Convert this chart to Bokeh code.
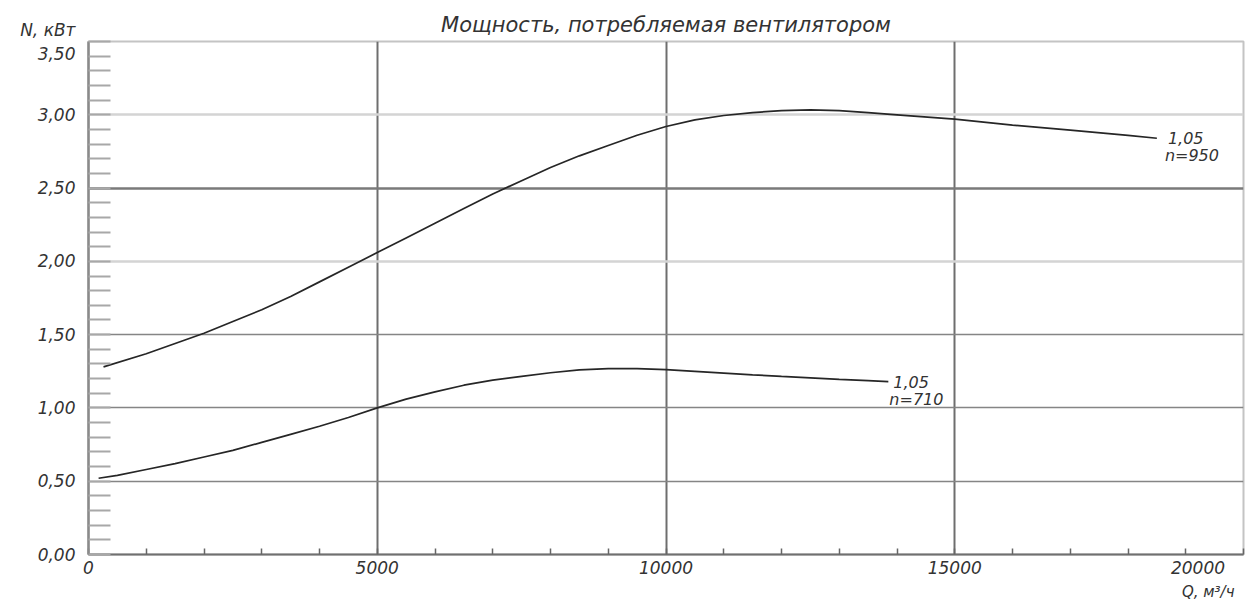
from bokeh.plotting import figure
from bokeh.models import FixedTicker, Grid, Label, Range1d, Title
from bokeh.embed import file_html
from bokeh.resources import INLINE

# ---- texts ----
title_text = "Мощность, потребляемая вентилятором"
y_label_text = "N, кВт"
x_label_text = "Q, м³/ч"

# ---- ticks ----
x_ticks = [0, 5000, 10000, 15000, 20000]
x_minor = [0, 1000, 2000, 3000, 4000, 5000, 6000, 7000, 8000, 9000, 10000,
           11000, 12000, 13000, 14000, 15000, 16000, 17000, 18000, 19000, 20000]
x_grid = [5000, 10000, 15000, 20000]
y_ticks = [0.0, 0.5, 1.0, 1.5, 2.0, 2.5, 3.0, 3.5]
y_minor = [0.0, 0.1, 0.2, 0.3, 0.4, 0.5, 0.6, 0.7, 0.8, 0.9, 1.0, 1.1, 1.2, 1.3,
           1.4, 1.5, 1.6, 1.7, 1.8, 1.9, 2.0, 2.1, 2.2, 2.3, 2.4, 2.5, 2.6, 2.7,
           2.8, 2.9, 3.0, 3.1, 3.2, 3.3, 3.4, 3.5]
y_grid_mid = [0.5, 1.0, 1.5]
y_grid_dark = [2.5]
y_grid_light = [2.0, 3.0, 3.5]

# ---- data: n = 950 ----
q950 = [260, 1000, 1500, 2000, 2500, 3000, 3500, 4000, 4500, 5000, 5500,
        6000, 6500, 7000, 7500, 8000, 8500, 9000, 9500, 10000, 10500, 11000,
        11500, 12000, 12500, 13000, 13500, 14000, 15000, 16000, 17000, 18000,
        18500]
n950 = [1.28, 1.37, 1.44, 1.51, 1.59, 1.67, 1.76, 1.86, 1.96, 2.06, 2.16,
        2.26, 2.36, 2.46, 2.55, 2.64, 2.72, 2.79, 2.86, 2.92, 2.965, 2.995,
        3.015, 3.028, 3.034, 3.028, 3.015, 3.0, 2.97, 2.93, 2.895, 2.86,
        2.84]
lab950 = ["1,05", "n=950"]

# ---- data: n = 710 ----
q710 = [175, 500, 1000, 1500, 2000, 2500, 3000, 3500, 4000, 4500, 5000,
        5500, 6000, 6500, 7000, 7500, 8000, 8500, 9000, 9500, 10000, 10500,
        11000, 11500, 12000, 12500, 13000, 13500, 13850]
n710 = [0.52, 0.54, 0.58, 0.62, 0.665, 0.71, 0.765, 0.82, 0.875, 0.935, 1.00,
        1.06, 1.11, 1.155, 1.19, 1.215, 1.24, 1.26, 1.268, 1.268, 1.262, 1.25,
        1.238, 1.226, 1.215, 1.205, 1.195, 1.186, 1.18]
lab710 = ["1,05", "n=710"]

FONT = "DejaVu Sans"
TXT = "#333333"

p = figure(width=1257, height=600,
           x_range=Range1d(0, 20000), y_range=Range1d(0, 3.5),
           output_backend="svg", toolbar_location=None,
           min_border_left=88, min_border_right=14,
           min_border_top=41, min_border_bottom=46,
           title=None)
p.background_fill_color = "white"
p.border_fill_color = "white"
p.outline_line_color = "#c4c4c4"
p.outline_line_width = 2

p.add_layout(Title(text=title_text, align="center", offset=-12, standoff=9,
                   text_font=FONT, text_font_style="italic",
                   text_font_size="21px", text_color=TXT), "above")

# x axis
xa = p.xaxis[0]
xa.ticker = FixedTicker(ticks=x_ticks, minor_ticks=x_minor)
xa.major_label_overrides = {20000: "20000\u2007\u2007\u2007"}
xa.major_tick_in = 0
xa.major_tick_out = 0
xa.minor_tick_in = 6
xa.minor_tick_out = 0
xa.minor_tick_line_color = "#666666"
xa.minor_tick_line_width = 1.5
xa.axis_line_color = "#707070"
xa.axis_line_width = 2
xa.major_label_standoff = 3
xa.major_label_text_font = FONT
xa.major_label_text_font_style = "italic"
xa.major_label_text_font_size = "17px"
xa.major_label_text_color = TXT

# x axis name below the tick labels, right aligned
p.add_layout(Title(text=x_label_text, align="right", offset=9, standoff=0,
                   text_font=FONT, text_font_style="italic",
                   text_font_size="15px", text_color=TXT), "below")

# y axis (axis name sits on top of the highest tick label)
ya = p.yaxis[0]
ya.ticker = FixedTicker(ticks=y_ticks, minor_ticks=y_minor)
y_tick_text = {t: f"{t:.2f}".replace(".", ",") for t in y_ticks}
y_tick_text[y_ticks[-1]] = y_label_text + "\n" + y_tick_text[y_ticks[-1]]
ya.major_label_overrides = y_tick_text
ya.major_tick_in = 0
ya.major_tick_out = 0
ya.minor_tick_in = 22
ya.minor_tick_out = 0
ya.minor_tick_line_color = "#a8a8a8"
ya.minor_tick_line_width = 2
ya.axis_line_color = "#8a8a8a"
ya.axis_line_width = 2.5
ya.major_label_standoff = 13
ya.major_label_text_font = FONT
ya.major_label_text_font_style = "italic"
ya.major_label_text_font_size = "17px"
ya.major_label_text_color = TXT

# grids
p.xgrid.ticker = FixedTicker(ticks=x_grid)
p.xgrid.grid_line_color = "#6e6e6e"
p.xgrid.grid_line_width = 2
p.ygrid.ticker = FixedTicker(ticks=y_grid_mid)
p.ygrid.grid_line_color = "#858585"
p.ygrid.grid_line_width = 1.3
p.add_layout(Grid(dimension=1, ticker=FixedTicker(ticks=y_grid_dark),
                  grid_line_color="#7a7a7a", grid_line_width=2.5))
p.add_layout(Grid(dimension=1, ticker=FixedTicker(ticks=y_grid_light),
                  grid_line_color="#d4d4d4", grid_line_width=2.5))

# curves
p.line(q950, n950, line_color="#262626", line_width=1.7)
p.line(q710, n710, line_color="#262626", line_width=1.7)

def add_text(x, y, text, dx, dy):
    p.add_layout(Label(x=x, y=y, text=text, x_offset=dx, y_offset=dy,
                       text_align="left", text_baseline="middle",
                       text_font=FONT, text_font_style="italic",
                       text_font_size="16px", text_color=TXT))

add_text(q950[-1], n950[-1], lab950[0], 11, 0)
add_text(q950[-1], n950[-1], lab950[1], 8, -17)
add_text(q710[-1], n710[-1], lab710[0], 5, 0)
add_text(q710[-1], n710[-1], lab710[1], 1, -18)

open("out.html", "w").write(file_html(p, INLINE))
